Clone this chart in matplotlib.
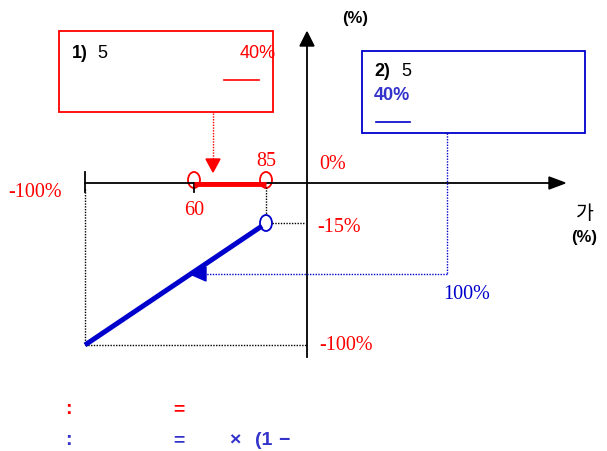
import matplotlib

matplotlib.use("Agg")
import matplotlib.pyplot as plt  # noqa: E402
from matplotlib.patches import Ellipse, Rectangle, Polygon  # noqa: E402

# ---------------------------------------------------------------------------
# Esquema (coordenadas do desenho, origem no canto superior esquerdo)
# ---------------------------------------------------------------------------
ORIGEM = (307, 184)          # cruzamento dos eixos
EIXO_X = [85, 565]           # extensao do eixo horizontal
EIXO_Y = [358, 33]           # extensao do eixo vertical

FAIXA_X = [194, 266]         # trecho vermelho (60 ~ 85)
FAIXA_ROT = ["60", "85"]
PERDA_X = [85, 266]          # reta azul: de -100% ate -15%
PERDA_Y = [346, 224]
ROT_Y = ["0%", "-15%", "-100%"]

VERMELHO = "#ff0000"
AZUL = "#0000cc"
AZUL2 = "#3333cc"
SERIF = "Liberation Serif"
SANS = "Liberation Sans"
FS_SERIF = 14.5

fig = plt.figure(figsize=(6.07, 4.52), dpi=100)
ax = fig.add_axes([0, 0, 1, 1])
ax.set_xlim(0, 607)
ax.set_ylim(452, 0)
ax.axis("off")

x0, y0 = ORIGEM

# eixos
ax.plot([EIXO_X[0], EIXO_X[1] - 14], [y0, y0], color="black", lw=1.3)
ax.add_patch(Polygon([[EIXO_X[1], y0], [EIXO_X[1] - 16, y0 - 6], [EIXO_X[1] - 16, y0 + 6]],
                     closed=True, color="black"))
ax.plot([x0, x0], [EIXO_Y[0], EIXO_Y[1] + 12], color="black", lw=1.3)
ax.add_patch(Polygon([[x0, EIXO_Y[1]], [x0 - 7, EIXO_Y[1] + 14], [x0 + 7, EIXO_Y[1] + 14]],
                     closed=True, color="black"))
ax.plot([EIXO_X[0], EIXO_X[0]], [y0 - 11, y0 + 9], color="black", lw=1.3)
ax.plot([FAIXA_X[0], FAIXA_X[0]], [y0, y0 + 9], color="black", lw=1.3)

# guias pontilhadas
ax.plot([PERDA_X[1], PERDA_X[1]], [y0 + 4, PERDA_Y[1] - 8], color="black", lw=1, ls=(0, (1, 1)))
ax.plot([PERDA_X[1] + 6, x0 - 2], [PERDA_Y[1], PERDA_Y[1]], color="black", lw=1, ls=(0, (1, 1)))
ax.plot([PERDA_X[0], PERDA_X[0]], [y0 + 6, PERDA_Y[0]], color="black", lw=1, ls=(0, (1, 1)))
ax.plot([PERDA_X[0], x0], [PERDA_Y[0], PERDA_Y[0]], color="black", lw=1, ls=(0, (1, 1)))

# faixa vermelha
ax.plot(FAIXA_X, [y0 + 1, y0 + 1], color=VERMELHO, lw=3.5, solid_capstyle="butt")
for xi in FAIXA_X:
    ax.add_patch(Ellipse((xi, y0 - 3), 12, 16, facecolor="white", edgecolor=VERMELHO, lw=1.3))
ax.text(FAIXA_X[0], y0 + 27, FAIXA_ROT[0], color=VERMELHO, fontsize=FS_SERIF, family=SERIF,
        ha="center", va="center")
ax.text(FAIXA_X[1], y0 - 22, FAIXA_ROT[1], color=VERMELHO, fontsize=FS_SERIF, family=SERIF,
        ha="center", va="center")

# reta azul
ax.plot([PERDA_X[0], PERDA_X[1] - 4], [PERDA_Y[0], PERDA_Y[1] + 3], color=AZUL, lw=3.6,
        solid_capstyle="butt")
ax.add_patch(Ellipse((PERDA_X[1], PERDA_Y[1]), 12, 16, facecolor="white", edgecolor=AZUL, lw=1.3))

# rotulos dos eixos
ax.text(35, 193, "-100%", color=VERMELHO, fontsize=FS_SERIF, family=SERIF, ha="center", va="center")
ax.text(333, 165, ROT_Y[0], color=VERMELHO, fontsize=FS_SERIF, family=SERIF, ha="center", va="center")
ax.text(339, 228, ROT_Y[1], color=VERMELHO, fontsize=FS_SERIF, family=SERIF, ha="center", va="center")
ax.text(346, 346, ROT_Y[2], color=VERMELHO, fontsize=FS_SERIF, family=SERIF, ha="center", va="center")
ax.text(467, 295, "100%", color=AZUL, fontsize=FS_SERIF, family=SERIF, ha="center", va="center")
ax.text(355, 18, "(%)", color="black", fontsize=12, family=SANS, fontweight="bold",
        ha="center", va="center")
ax.text(585, 214, "가", color="black", fontsize=14, family="Noto Sans CJK KR",
        ha="center", va="center")
ax.text(584, 238, "(%)", color="black", fontsize=12, family=SANS, fontweight="bold",
        ha="center", va="center")

# caixa 1 (vermelha)
ax.add_patch(Rectangle((59, 32), 214, 81, facecolor="white", edgecolor=VERMELHO, lw=1.3))
ax.text(72, 53, "1)", color="black", fontsize=13, family=SANS, fontweight="bold",
        ha="left", va="center")
ax.text(97, 53, "5", color="black", fontsize=13, family=SANS, ha="left", va="center")
ax.text(240, 53, "40%", color=VERMELHO, fontsize=13, family=SANS, ha="left", va="center")
ax.plot([224, 259], [81, 81], color=VERMELHO, lw=1.2)
ax.plot([213, 213], [114, 160], color=VERMELHO, lw=1, ls=(0, (1, 1)))
ax.add_patch(Polygon([[213, 173], [206, 160], [220, 160]], closed=True, color=VERMELHO))

# caixa 2 (azul)
ax.add_patch(Rectangle((362, 52), 223, 82, facecolor="white", edgecolor=AZUL, lw=1.3))
ax.text(374, 72, "2)", color="black", fontsize=13, family=SANS, fontweight="bold",
        ha="left", va="center")
ax.text(401, 72, "5", color="black", fontsize=13, family=SANS, ha="left", va="center")
ax.text(374, 96, "40%", color=AZUL2, fontsize=13, family=SANS, fontweight="bold",
        ha="left", va="center")
ax.plot([376, 410], [123, 123], color=AZUL, lw=1.2)
ax.plot([447, 447], [134, 275], color=AZUL, lw=1, ls=(0, (1, 1)))
ax.plot([447, 205], [275, 275], color=AZUL, lw=1, ls=(0, (1, 1)))
ax.add_patch(Polygon([[190, 275], [206, 268], [206, 282]], closed=True, color=AZUL))

# formulas (texto coreano ausente no original)
ax.text(68, 410, ":", color=VERMELHO, fontsize=14, family=SANS, fontweight="bold",
        ha="center", va="center")
ax.text(179, 410, "=", color=VERMELHO, fontsize=14, family=SANS, fontweight="bold",
        ha="center", va="center")
ax.text(68, 441, ":", color=AZUL2, fontsize=14, family=SANS, fontweight="bold",
        ha="center", va="center")
ax.text(179, 441, "=", color=AZUL2, fontsize=14, family=SANS, fontweight="bold",
        ha="center", va="center")
ax.text(235, 441, "×", color=AZUL2, fontsize=14, family=SANS, fontweight="bold",
        ha="center", va="center")
ax.text(255, 441, "(1", color=AZUL2, fontsize=14, family=SANS, fontweight="bold",
        ha="left", va="center")
ax.text(284, 441, "−", color=AZUL2, fontsize=14, family=SANS, fontweight="bold",
        ha="center", va="center")

fig.savefig("out.png", dpi=100)
